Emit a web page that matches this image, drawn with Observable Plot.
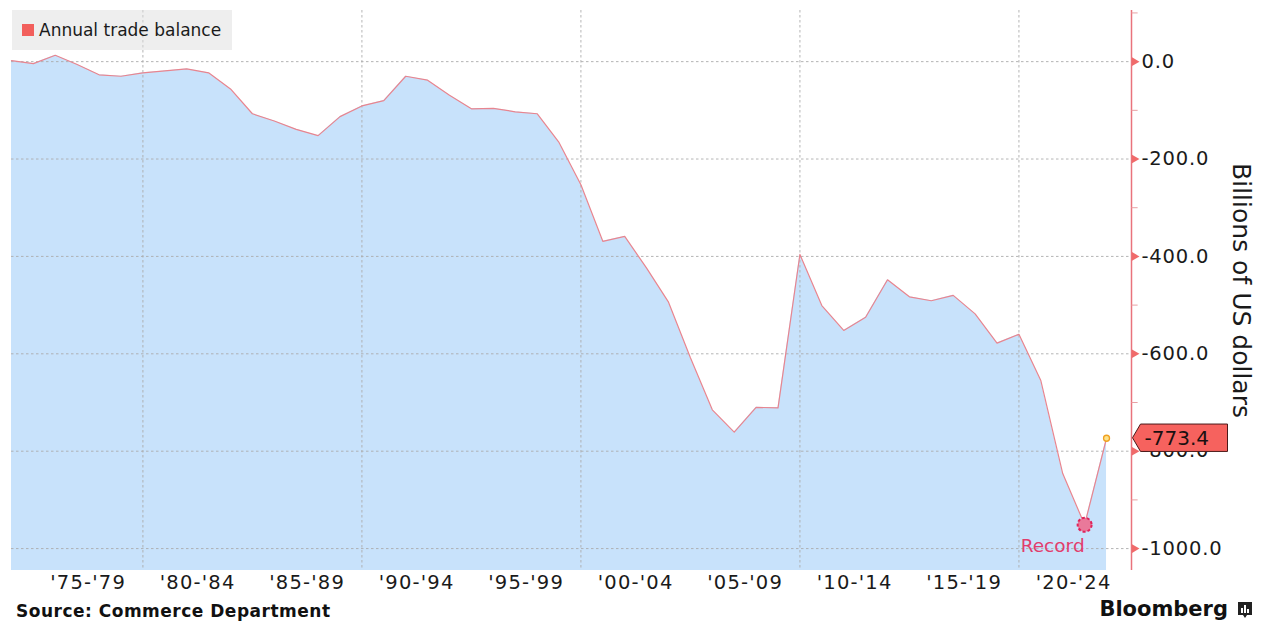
<!DOCTYPE html>
<html>
<head>
<meta charset="utf-8">
<script src="https://cdn.jsdelivr.net/npm/d3@7"></script>
<script src="https://cdn.jsdelivr.net/npm/@observablehq/plot@0.6"></script>
<style>
  html, body { margin: 0; padding: 0; background: #fff; }
  body { font-family: "DejaVu Sans", sans-serif; }
  #wrap { position: relative; width: 1262px; height: 623px; overflow: hidden; }
  #legend { position: absolute; left: 12px; top: 10px; width: 220px; height: 40px;
    background: rgba(222,222,222,0.5); font-size: 17px; color: #1a1a1a; }
  #legend .sw { position: absolute; left: 10px; top: 14px; width: 12px; height: 12px; background: #f25f5c; }
  #legend .tx { position: absolute; left: 27px; top: 0; line-height: 40px; white-space: nowrap; }
  #footer { position: absolute; left: 0; top: 600px; width: 1262px; height: 23px; }
  #source { position: absolute; left: 16px; top: 0; line-height: 23px; font-size: 17px; font-weight: bold; color: #111; white-space: nowrap; letter-spacing: 0.5px; }
  #brand { position: absolute; right: 34px; top: -2px; line-height: 23px; font-size: 21px; font-weight: bold; color: #111; white-space: nowrap; }
  #logo { position: absolute; left: 1237px; top: 1px; }
  g[aria-label="x-axis tick label"] text { letter-spacing: 1.2px; }
  g[aria-label="y-axis tick label"] text { letter-spacing: 0.8px; }
</style>
</head>
<body>
<div id="wrap">
  <div id="chart"></div>
  <div id="legend"><div class="sw"></div><div class="tx">Annual trade balance</div></div>
  <div id="footer">
    <div id="source">Source: Commerce Department</div>
    <div id="brand">Bloomberg</div>
    <svg id="logo" width="16" height="18" viewBox="0 0 16 18">
      <path d="M1,1 H15 V14 H10 L8,17 L6,14 H1 Z" fill="#222"/>
      <rect x="4" y="7" width="2" height="5" fill="#fff"/>
      <rect x="7" y="4" width="2" height="8" fill="#fff"/>
      <rect x="10" y="8" width="2" height="4" fill="#fff"/>
    </svg>
  </div>
</div>
<script>
// Annual US trade balance, billions of US dollars
const years = [1973,1974,1975,1976,1977,1978,1979,1980,1981,1982,1983,1984,1985,1986,1987,1988,1989,1990,1991,1992,1993,1994,1995,1996,1997,1998,1999,2000,2001,2002,2003,2004,2005,2006,2007,2008,2009,2010,2011,2012,2013,2014,2015,2016,2017,2018,2019,2020,2021,2022,2023];
const values = [2,-4,13,-6,-27,-30,-23,-19,-15,-23,-56,-107,-122,-139,-152,-113,-91,-80,-30,-38,-69,-97,-96,-103,-107,-166,-253,-369,-359,-424,-494,-608,-715,-761,-710,-711,-396,-501,-552,-525,-448,-483,-491,-480,-518,-578,-560,-655,-846,-951,-773.4];

const yTicks = [0,-200,-400,-600,-800,-1000];
const yMinor = [100,-100,-300,-500,-700,-900];
const xGrid = [1980,1990,2000,2010,2020];
const periodStarts = [1975,1980,1985,1990,1995,2000,2005,2010,2015,2020];
const periodLabels = ["'75-'79","'80-'84","'85-'89","'90-'94","'95-'99","'00-'04","'05-'09","'10-'14","'15-'19","'20-'24"];
const seriesName = "Annual trade balance";
const yAxisTitle = "Billions of US dollars";
const recordYear = 2022;
const recordText = "Record";

// Annual values are plotted at the end of each year
const data = years.map((y, i) => ({t: y + 1, v: values[i]}));
const last = data[data.length - 1];
const record = data[years.indexOf(recordYear)];
const XMIN = 1974, XMAX = 2025.14, YMIN = -1045, YMAX = 105;
const labelPos = periodStarts.map(s => s + 2.5);

const red = "#e9737c";
const grid = {stroke: "#ababab", strokeDasharray: "2.5,2.5", strokeWidth: 0.9};

const chart = Plot.plot({
  width: 1262,
  height: 600,
  marginLeft: 11,
  marginRight: 131,
  marginTop: 10,
  marginBottom: 30,
  style: {fontFamily: "DejaVu Sans, sans-serif", color: "#1a1a1a", background: "transparent"},
  x: {domain: [XMIN, XMAX]},
  y: {domain: [YMIN, YMAX]},
  marks: [
    Plot.areaY(data, {x: "t", y1: YMIN, y2: "v", fill: "#c8e2fb"}),
    Plot.ruleY(yTicks, {y: d => d, ...grid}),
    Plot.ruleX(xGrid, {x: d => d, ...grid}),
    Plot.lineY(data, {x: "t", y: "v", stroke: "#e8858f", strokeWidth: 1.2}),
    Plot.axisX(labelPos, {tickSize: 0, tickPadding: 5, fontSize: 19.5, tickFormat: (d, i) => periodLabels[i], label: null, fill: "#1a1a1a"}),
    Plot.axisY(yTicks, {anchor: "right", tickSize: 0, tickPadding: 10, fontSize: 19.5, tickFormat: d => d.toFixed(1), label: null, fill: "#1a1a1a"}),
    Plot.ruleX([XMAX], {x: d => d, stroke: red, strokeWidth: 1.5}),
    Plot.link(yMinor, {x1: XMAX, x2: XMAX + 0.28, y1: d => d, y2: d => d, stroke: "#e8a0a4", strokeWidth: 1}),
    Plot.dot(yTicks, {x: XMAX, y: d => d, symbol: "triangle", rotate: 90, r: 3.2, fill: "#f06a6a", dx: 3}),
    Plot.text([yAxisTitle], {frameAnchor: "right", textAnchor: "middle", rotate: 90, dx: 109, fontSize: 25, fill: "#1a1a1a"}),
    Plot.dot([record], {x: "t", y: "v", r: 7, fill: "#e9799a", stroke: "#e0245a", strokeWidth: 2, strokeDasharray: "3,2"}),
    Plot.text([record], {x: "t", y: "v", text: () => recordText, textAnchor: "end", dx: 0, dy: 21, fontSize: 18.5, fill: "#e23c6c"}),
    Plot.dot([last], {x: "t", y: "v", r: 3, fill: "#fde38a", stroke: "#f0a020", strokeWidth: 1.3})
  ]
});
document.getElementById("chart").appendChild(chart);

// last-value tag, positioned with the chart's own scales
const sx = chart.scale("x"), sy = chart.scale("y");
const ax = sx.apply(XMAX) + 1.5, ay = sy.apply(last.v);
const svg = d3.select(chart);
const g = svg.append("g");
const h = 13.7, w = 87;
g.append("path")
  .attr("d", `M${ax},${ay} L${ax + 8},${ay - h} H${ax + 8 + w} V${ay + h} H${ax + 8} Z`)
  .attr("fill", "#f6625e").attr("stroke", "#4a1a1a").attr("stroke-width", 1);
g.append("text")
  .attr("x", ax + 12).attr("y", ay).attr("dy", "0.36em")
  .attr("text-anchor", "start")
  .attr("font-size", 20).attr("fill", "#1a1010")
  .attr("font-family", "DejaVu Sans, sans-serif")
  .text(last.v.toFixed(1));
</script>
</body>
</html>
